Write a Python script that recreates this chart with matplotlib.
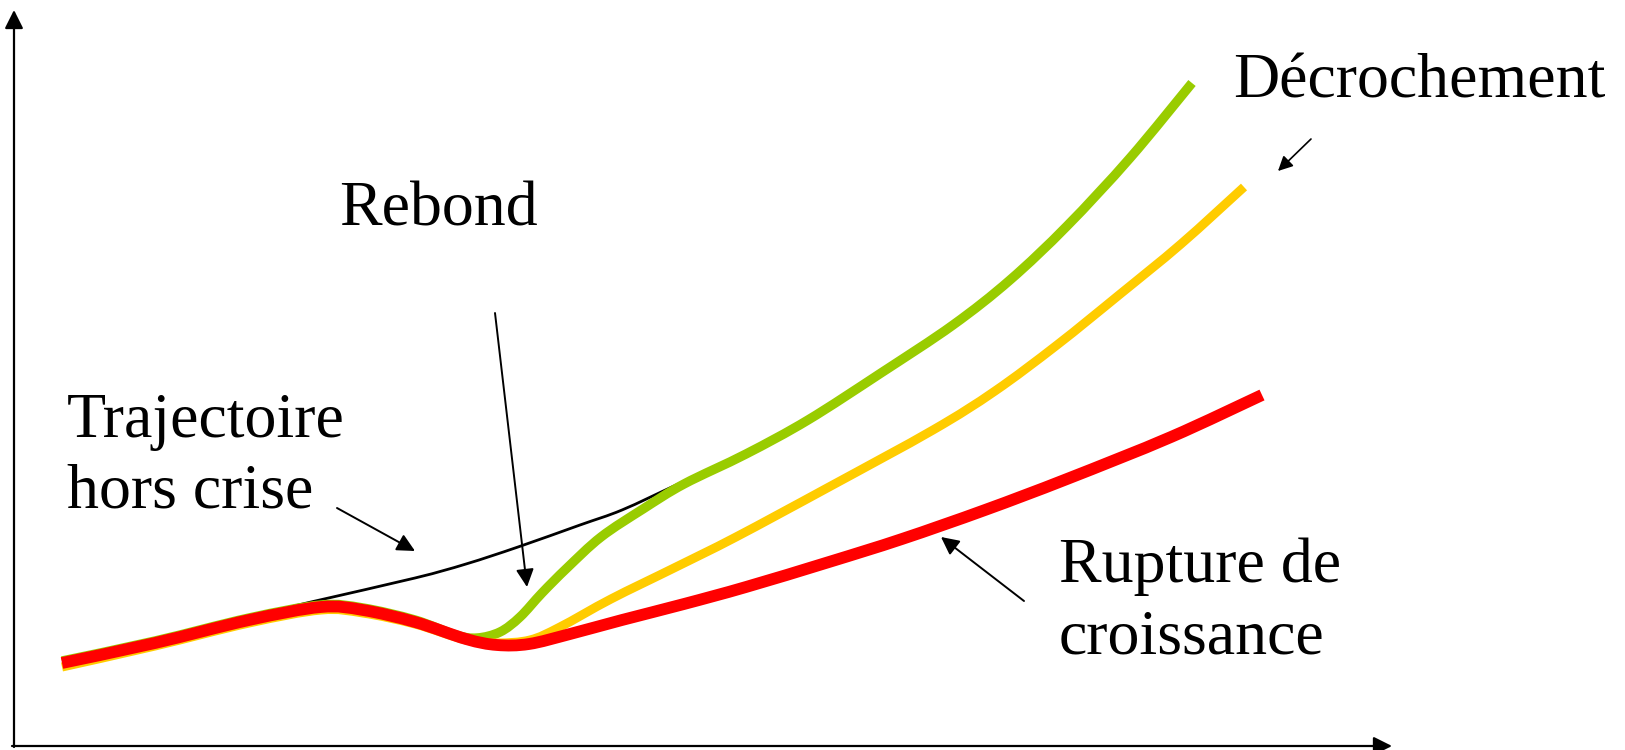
import numpy as np
import matplotlib
matplotlib.use("Agg")
import matplotlib.pyplot as plt
from matplotlib.path import Path
from matplotlib.patches import PathPatch

# ---- data (chart units: x to the right, y downward as in the picture) ----
red_x = [62, 155, 249, 321, 363, 415, 466, 497, 529, 570, 622, 684, 746, 829, 902, 985, 1067, 1171, 1262]
red_y = [663, 643, 620, 607, 610, 622, 639, 645, 644, 634, 620, 604, 587, 562, 539, 510, 479, 437, 395]

green_x = [62, 155, 249, 321, 363, 415, 456, 477, 500, 520, 542, 567, 601, 643, 684, 746, 808, 881, 953, 1010, 1067, 1130, 1192]
green_y = [661, 641, 618, 605, 608, 620, 635, 638, 632, 617, 593, 568, 537, 509, 484, 454, 420, 373, 325, 280, 226, 158, 83]

yellow_x = [62, 155, 249, 321, 363, 415, 466, 497, 530, 560, 611, 674, 736, 829, 933, 995, 1057, 1119, 1181, 1244]
yellow_y = [667, 646, 623, 610, 613, 624, 640, 643, 640, 627, 599, 568, 537, 487, 430, 391, 345, 295, 244, 187]

black_x = [240, 311, 415, 466, 518, 580, 622, 674, 690]
black_y = [619, 602, 578, 564, 547, 525, 510, 486, 479]

labels = ["Rebond", "Trajectoire", "hors crise", "Décrochement", "Rupture de", "croissance"]

fig = plt.figure(figsize=(16.25, 7.5), dpi=100)
ax = fig.add_axes([0, 0, 1, 1])
ax.set_xlim(0, 1625)
ax.set_ylim(750, 0)
ax.axis("off")


def smooth_path(xs, ys):
    pts = np.column_stack([xs, ys]).astype(float)
    verts = [pts[0]]
    codes = [Path.MOVETO]
    n = len(pts)
    for i in range(n - 1):
        p0 = pts[i - 1] if i > 0 else pts[i]
        p1 = pts[i]
        p2 = pts[i + 1]
        p3 = pts[i + 2] if i + 2 < n else pts[i + 1]
        verts += [p1 + (p2 - p0) / 6.0, p2 - (p3 - p1) / 6.0, p2]
        codes += [Path.CURVE4] * 3
    return Path(verts, codes)


def draw_curve(xs, ys, color, lw, z):
    patch = PathPatch(smooth_path(xs, ys), facecolor="none", edgecolor=color,
                      lw=lw, capstyle="butt", joinstyle="round", zorder=z)
    ax.add_patch(patch)


draw_curve(black_x, black_y, "black", 2.0, 1)
draw_curve(green_x, green_y, "#99CC00", 6.8, 2)
draw_curve(yellow_x, yellow_y, "#FFCC00", 6.5, 3)
draw_curve(red_x, red_y, "#FF0000", 8.5, 4)

# axes arrows
axis_kw = dict(arrowstyle="-|>,head_length=0.4,head_width=0.2", color="black",
               lw=1.6, mutation_scale=28, shrinkA=0, shrinkB=0)
ax.annotate("", xy=(14, 10), xytext=(14, 747), arrowprops=axis_kw)
ax.annotate("", xy=(1392, 746), xytext=(12, 746), arrowprops=axis_kw)

# annotation arrows
def arrow(tail, head, ms=27, lw=1.4):
    ax.annotate("", xy=head, xytext=tail,
                arrowprops=dict(arrowstyle="-|>,head_length=0.4,head_width=0.2",
                                color="black", lw=lw, mutation_scale=ms,
                                shrinkA=0, shrinkB=0), zorder=5)

arrow((337, 508), (415, 551))
arrow((495, 313), (527, 587))
arrow((1311, 139), (1278, 171), ms=22, lw=1.2)
arrow((1024, 601), (941, 537))

font = dict(family="Liberation Serif", fontsize=46, color="black", va="baseline", ha="left")
ax.text(339, 226, labels[0], **font)
ax.text(67, 437, labels[1], **font)
ax.text(67, 508, labels[2], **font)
ax.text(1233, 98, labels[3], **font)
ax.text(1059, 582, labels[4], **font)
ax.text(1059, 653, labels[5], **font)

fig.savefig("out.png", dpi=100, facecolor="white")
